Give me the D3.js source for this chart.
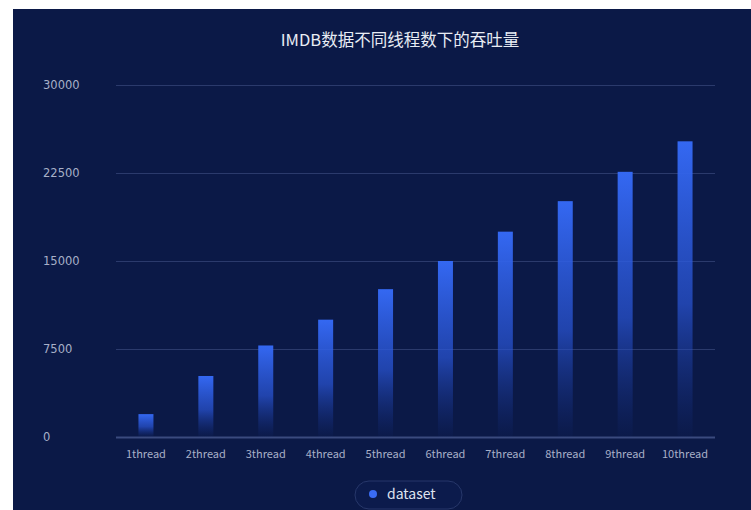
<!DOCTYPE html>
<html><head><meta charset="utf-8">
<script src="https://cdn.jsdelivr.net/npm/d3@7"></script>
<style>html,body{margin:0;padding:0;background:#fff;}svg{display:block;}</style>
</head><body>
<svg id="chart" width="751" height="510"></svg>
<script>
const title = "IMDB数据不同线程数下的吞吐量";
const categories = ["1thread","2thread","3thread","4thread","5thread","6thread","7thread","8thread","9thread","10thread"];
const values = [1950, 5200, 7800, 10000, 12600, 15000, 17500, 20100, 22600, 25200];
const yTicks = [0, 7500, 15000, 22500, 30000];
const seriesName = "dataset";

const svg = d3.select("#chart");
const font = "'Noto Sans CJK SC', 'Noto Sans', Arial, sans-serif";

svg.append("rect").attr("x", 13).attr("y", 9).attr("width", 738).attr("height", 501).attr("fill", "#0b1947");

const defs = svg.append("defs");
const grad = defs.append("linearGradient").attr("id", "barGrad").attr("x1", 0).attr("y1", 0).attr("x2", 0).attr("y2", 1);
grad.append("stop").attr("offset", "0%").attr("stop-color", "#3468f2").attr("stop-opacity", 1);
grad.append("stop").attr("offset", "55%").attr("stop-color", "#2a56d8").attr("stop-opacity", 0.7);
grad.append("stop").attr("offset", "100%").attr("stop-color", "#1a3aa0").attr("stop-opacity", 0.03);

const x = d3.scaleBand().domain(categories).range([116, 715]);
const y = d3.scaleLinear().domain([0, 30000]).range([437, 85]);

// grid lines
svg.append("g").selectAll("line").data(yTicks).join("line")
  .attr("x1", 116).attr("x2", 715)
  .attr("y1", d => y(d) + 0.5).attr("y2", d => y(d) + 0.5)
  .attr("stroke", d => d === 0 ? "#3a4a7e" : "#2b3a6c").attr("stroke-width", d => d === 0 ? 2 : 1);

// y labels
svg.append("g").selectAll("text").data(yTicks).join("text")
  .attr("x", 43).attr("y", d => y(d) + 4)
  .attr("fill", "#a8b0c8").attr("font-size", 11.5).attr("font-family", "'DejaVu Sans', sans-serif")
  .text(d => d);

// bars
const bw = 15;
svg.append("g").selectAll("rect").data(values).join("rect")
  .attr("x", (d, i) => x(categories[i]) + x.bandwidth() / 2 - bw / 2)
  .attr("y", d => y(d))
  .attr("width", bw)
  .attr("height", d => y(0) - y(d))
  .attr("fill", "url(#barGrad)");

// x labels
svg.append("g").selectAll("text").data(categories).join("text")
  .attr("x", d => x(d) + x.bandwidth() / 2).attr("y", 458)
  .attr("text-anchor", "middle")
  .attr("fill", "#a8b0c8").attr("font-size", 11).attr("font-family", font)
  .text(d => d);

// title
svg.append("text").attr("x", 400).attr("y", 46).attr("text-anchor", "middle")
  .attr("fill", "#e8ecf4").attr("font-size", 16.5).attr("font-family", font)
  .text(title);

// legend
const lg = svg.append("g");
lg.append("rect").attr("x", 355).attr("y", 481).attr("width", 107).attr("height", 28).attr("rx", 14)
  .attr("fill", "#0c1b4c").attr("stroke", "#27376a").attr("stroke-width", 1);
lg.append("circle").attr("cx", 373).attr("cy", 494).attr("r", 4).attr("fill", "#3a6cf4");
lg.append("text").attr("x", 387).attr("y", 499).attr("fill", "#dfe3ee").attr("font-size", 14).attr("font-family", font).text(seriesName);
</script>
</body></html>
